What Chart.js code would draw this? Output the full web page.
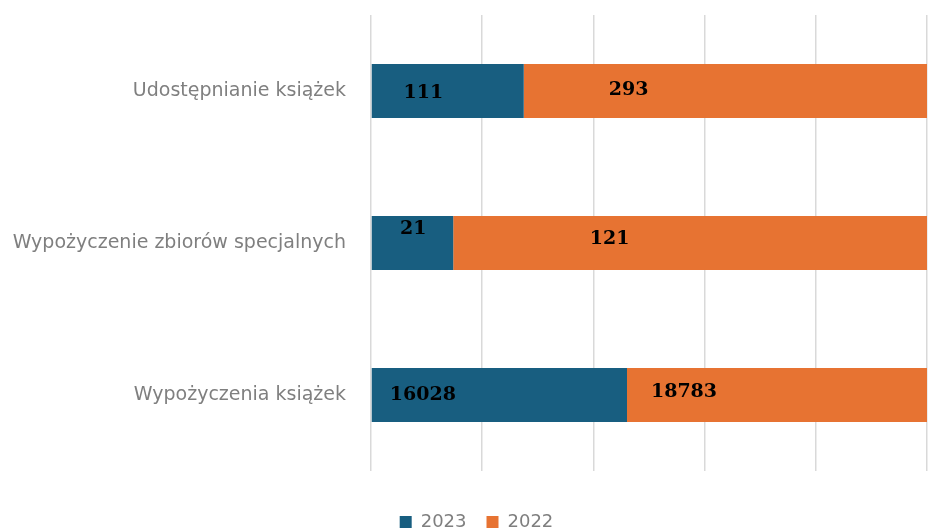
<!DOCTYPE html>
<html><head><meta charset="utf-8">
<script src="https://cdn.jsdelivr.net/npm/chart.js@4/dist/chart.umd.min.js"></script>
<style>html,body{margin:0;padding:0;background:#fff}#wrap{width:943px;height:532px}</style>
</head><body><div id="wrap"><canvas id="c" width="943" height="532"></canvas></div>
<script>
const categories = ['Udostępnianie książek', 'Wypożyczenie zbiorów specjalnych', 'Wypożyczenia książek'];
const seriesNames = ['2023', '2022'];
const values2023 = [111, 21, 16028];
const values2022 = [293, 121, 18783];
const xTicks = [0, 20, 40, 60, 80, 100];

const totals = categories.map((_, i) => values2023[i] + values2022[i]);
const pct = arr => arr.map((v, i) => v / totals[i] * 100);

// manual label placement (fraction along each segment, vertical pixel shift)
const labelPlacement = [
  { frac: [0.34, 0.51, 0.20], dy: [2, -14, 0] },
  { frac: [0.26, 0.33, 0.19], dy: [-1, -4, -3] }
];
const rawValues = [values2023, values2022];

const labelPlugin = {
  id: 'segLabels',
  afterDatasetsDraw(chart) {
    const ctx = chart.ctx;
    ctx.save();
    ctx.font = 'bold 19px "DejaVu Serif"';
    ctx.fillStyle = '#000';
    ctx.textAlign = 'center';
    ctx.textBaseline = 'middle';
    chart.data.datasets.forEach((ds, di) => {
      const meta = chart.getDatasetMeta(di);
      meta.data.forEach((el, i) => {
        const p = el.getProps(['x', 'y', 'base'], true);
        const x = p.base + labelPlacement[di].frac[i] * (p.x - p.base);
        ctx.fillText(String(rawValues[di][i]), x, p.y + labelPlacement[di].dy[i]);
      });
    });
    ctx.restore();
  }
};

new Chart(document.getElementById('c'), {
  type: 'bar',
  data: {
    labels: categories,
    datasets: [
      { label: seriesNames[0], data: pct(values2023), backgroundColor: '#185E80', borderWidth: 0 },
      { label: seriesNames[1], data: pct(values2022), backgroundColor: '#E77332', borderWidth: 0 }
    ]
  },
  options: {
    indexAxis: 'y',
    responsive: false,
    animation: false,
    layout: { padding: { top: 15, right: 0, left: 10, bottom: -9 } },
    datasets: { bar: { barPercentage: 1, categoryPercentage: 0.355 } },
    scales: {
      x: {
        stacked: true, min: 0, max: 100,
        afterBuildTicks: s => { s.ticks = xTicks.map(v => ({ value: v })); },
        afterFit: s => { s.height = 22; s.paddingLeft = 0; s.paddingRight = 16; },
        ticks: { display: false },
        grid: { color: '#d9d9d9', lineWidth: 1.5, drawTicks: false },
        border: { display: false }
      },
      y: {
        stacked: true,
        afterFit: s => { s.width = 361; s.paddingTop = 0; s.paddingBottom = 0; },
        ticks: { color: '#7f7f7f', font: { family: 'DejaVu Sans', size: 19 }, padding: 25 },
        grid: { display: false, drawTicks: false },
        border: { display: false }
      }
    },
    plugins: {
      legend: {
        position: 'bottom',
        labels: { color: '#7f7f7f', font: { family: 'DejaVu Sans', size: 18 }, boxWidth: 12, boxHeight: 12, padding: 20 }
      },
      tooltip: { enabled: false }
    }
  },
  plugins: [labelPlugin]
});
</script></body></html>
